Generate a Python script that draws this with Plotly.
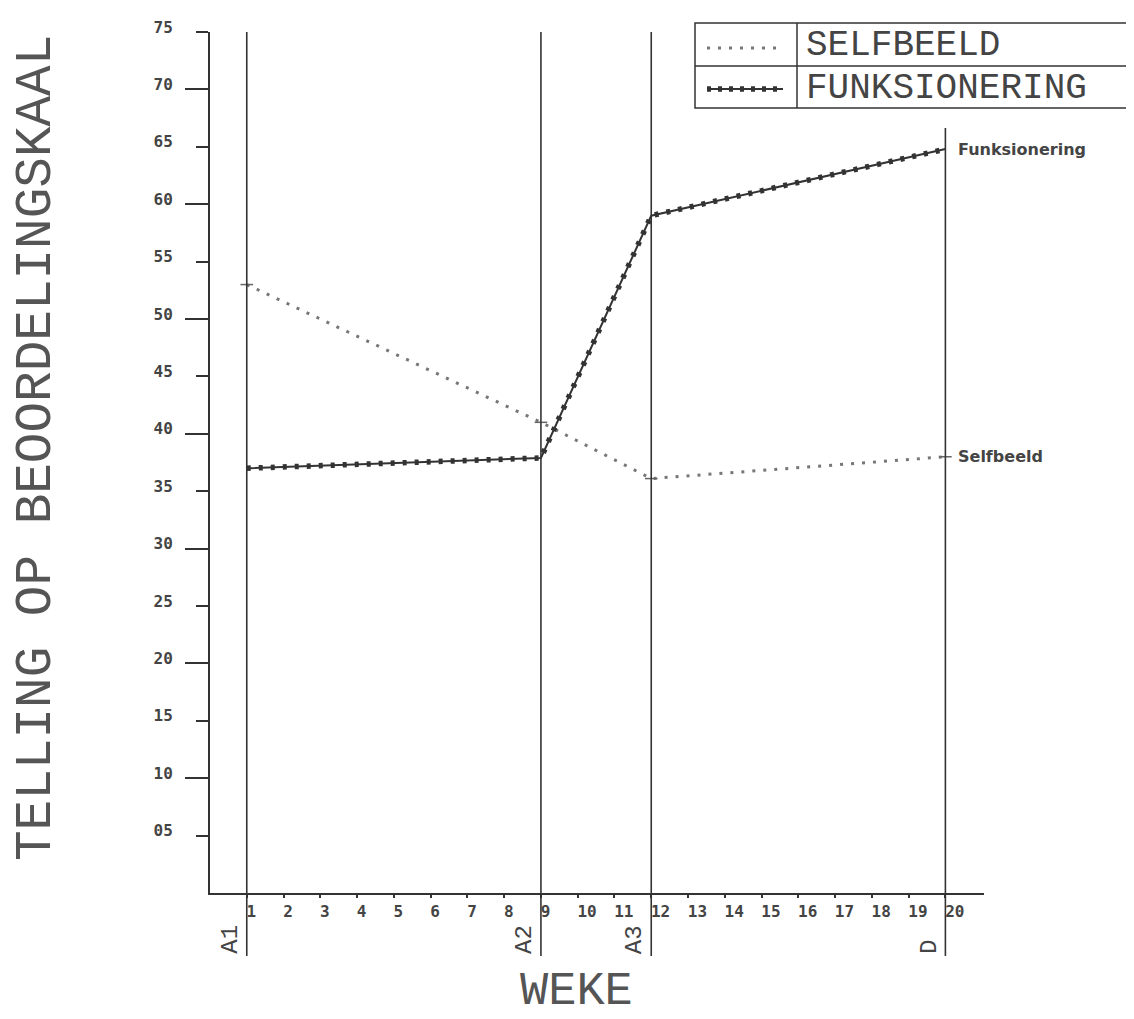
import plotly.graph_objects as go

# ---------------- data ----------------
weeks = [1, 9, 12, 20]
selfbeeld = [53.0, 41.0, 36.1, 38.0]
funksionering = [37.0, 37.9, 59.0, 64.8]

x_ticks = list(range(1, 21))
x_ticklabels = [str(v) for v in x_ticks]
y_ticks = list(range(5, 80, 5))
y_ticklabels = [f"{v:02d}" for v in y_ticks]
y_long_ticks = list(range(10, 80, 10))

phase_weeks = [1, 9, 12, 20]
phase_labels = ["A1", "A2", "A3", "D"]
legend_names = ["SELFBEELD", "FUNKSIONERING"]
end_labels = ["Selfbeeld", "Funksionering"]
y_title = "TELLING OP BEOORDELINGSKAAL"
x_title = "WEKE"

# ---------------- layout geometry ----------------
OFF = 8  # page body margin
W, H = 1134 - OFF, 1019 - OFF
L, R, T, B = 210 - OFF, 1134 - 984, 32 - OFF, 1019 - 893
PW, PH = W - L - R, H - T - B


def px_x(px):  # screen pixel -> paper x
    return (px - OFF - L) / PW


def px_y(py):  # screen pixel -> paper y
    return (H - B - (py - OFF)) / PH


INK = "#333333"
TXT = "#444444"
PLOT_FONT = "Liberation Mono"

fig = go.Figure()

# Selfbeeld: dotted line
fig.add_trace(go.Scatter(
    x=weeks, y=selfbeeld, mode="lines+markers", name=legend_names[0],
    line=dict(color="#777777", width=3, dash="3px,8px"),
    marker=dict(symbol="line-ew", size=9, line=dict(color="#666666", width=1.5)),
    showlegend=False, hoverinfo="skip"))

# Funksionering: solid line with beads
fig.add_trace(go.Scatter(
    x=weeks, y=funksionering, mode="lines", name=legend_names[1],
    line=dict(color=INK, width=2), showlegend=False, hoverinfo="skip"))
fig.add_trace(go.Scatter(
    x=weeks, y=funksionering, mode="lines",
    line=dict(color=INK, width=5.5, dash="4px,8px"),
    showlegend=False, hoverinfo="skip"))

# invisible trace to register the long-tick overlay axis
fig.add_trace(go.Scatter(
    x=weeks, y=funksionering, mode="lines", yaxis="y2",
    line=dict(width=0), showlegend=False, hoverinfo="skip"))

shapes = []
annotations = []

# phase lines
for wk, lab in zip(phase_weeks, phase_labels):
    top = 128 if lab == "D" else 32
    shapes.append(dict(type="line", xref="x", yref="paper",
                       x0=wk, x1=wk, y0=px_y(956), y1=px_y(top),
                       line=dict(color=INK, width=1.6), layer="above"))
    annotations.append(dict(x=wk, xref="x", y=px_y(956), yref="paper",
                            text=lab, showarrow=False, textangle=-90,
                            xanchor="right", yanchor="bottom", xshift=-1,
                            font=dict(family=PLOT_FONT, size=24, color=TXT)))

# end labels
for lab, series in zip(end_labels, [selfbeeld, funksionering]):
    annotations.append(dict(x=weeks[-1], xref="x", y=series[-1], yref="y",
                            text=lab, showarrow=False, xanchor="left",
                            yanchor="middle", xshift=11,
                            font=dict(family="DejaVu Sans", size=16,
                                      color=TXT, weight="bold")))

# legend box
lx0, lx1, ldiv = px_x(695), px_x(1128), px_x(797)
ly0, ymid, ly1 = px_y(108), px_y(66), px_y(23)
shapes += [
    dict(type="rect", xref="paper", yref="paper", x0=lx0, x1=lx1, y0=ly0, y1=ly1,
         line=dict(color=INK, width=1.5)),
    dict(type="line", xref="paper", yref="paper", x0=lx0, x1=lx1, y0=ymid, y1=ymid,
         line=dict(color=INK, width=1.5)),
    dict(type="line", xref="paper", yref="paper", x0=ldiv, x1=ldiv, y0=ly0, y1=ly1,
         line=dict(color=INK, width=1.5)),
    dict(type="line", xref="paper", yref="paper", x0=px_x(707), x1=px_x(781),
         y0=px_y(48), y1=px_y(48), line=dict(color="#777777", width=3, dash="3px,8px")),
    dict(type="line", xref="paper", yref="paper", x0=px_x(707), x1=px_x(783),
         y0=px_y(89), y1=px_y(89), line=dict(color=INK, width=2)),
    dict(type="line", xref="paper", yref="paper", x0=px_x(707), x1=px_x(783),
         y0=px_y(89), y1=px_y(89), line=dict(color=INK, width=5.5, dash="4px,7px")),
]
for name, cy in zip(legend_names, [46, 88]):
    annotations.append(dict(x=px_x(804), xref="paper", y=px_y(cy), yref="paper",
                            text=name, showarrow=False, xanchor="left",
                            yanchor="middle",
                            font=dict(family=PLOT_FONT, size=36, color=TXT)))

# axis titles
annotations.append(dict(x=px_x(36), xref="paper", y=px_y(448), yref="paper",
                        text=y_title, showarrow=False, textangle=-90,
                        xanchor="center", yanchor="middle",
                        font=dict(family=PLOT_FONT, size=51, color="#555555")))
annotations.append(dict(x=px_x(576), xref="paper", y=px_y(991), yref="paper",
                        text=x_title, showarrow=False,
                        xanchor="center", yanchor="middle",
                        font=dict(family=PLOT_FONT, size=47, color="#555555")))

tickfont = dict(family="DejaVu Sans Mono", size=16, color=TXT, weight="bold")

fig.update_layout(
    width=W, height=H,
    margin=dict(l=L, r=R, t=T, b=B, autoexpand=False),
    paper_bgcolor="white", plot_bgcolor="white",
    showlegend=False,
    xaxis=dict(range=[0, 21.05], tickmode="array", tickvals=x_ticks,
               ticktext=x_ticklabels, ticks="outside", ticklen=3,
               tickwidth=1.5, tickcolor=INK, showgrid=False, zeroline=False,
               showline=True, linecolor=INK, linewidth=2,
               ticklabelposition="outside right", ticklabelshift=-2,
               ticklabelstandoff=3, tickfont=tickfont),
    yaxis=dict(range=[0, 75], tickmode="array", tickvals=y_ticks,
               ticktext=y_ticklabels, ticks="outside", ticklen=12,
               tickwidth=1.5, tickcolor=INK, showgrid=False, zeroline=False,
               showline=True, linecolor=INK, linewidth=2,
               ticklabelstandoff=20, ticklabelshift=-5, tickfont=tickfont),
    yaxis2=dict(range=[0, 75], overlaying="y", anchor="x", side="left",
                tickmode="array", tickvals=y_long_ticks, ticks="outside",
                ticklen=24, tickwidth=1.5, tickcolor=INK,
                showticklabels=False, showgrid=False, zeroline=False,
                showline=False),
    shapes=shapes,
    annotations=annotations,
)

fig.write_html("out.html")
